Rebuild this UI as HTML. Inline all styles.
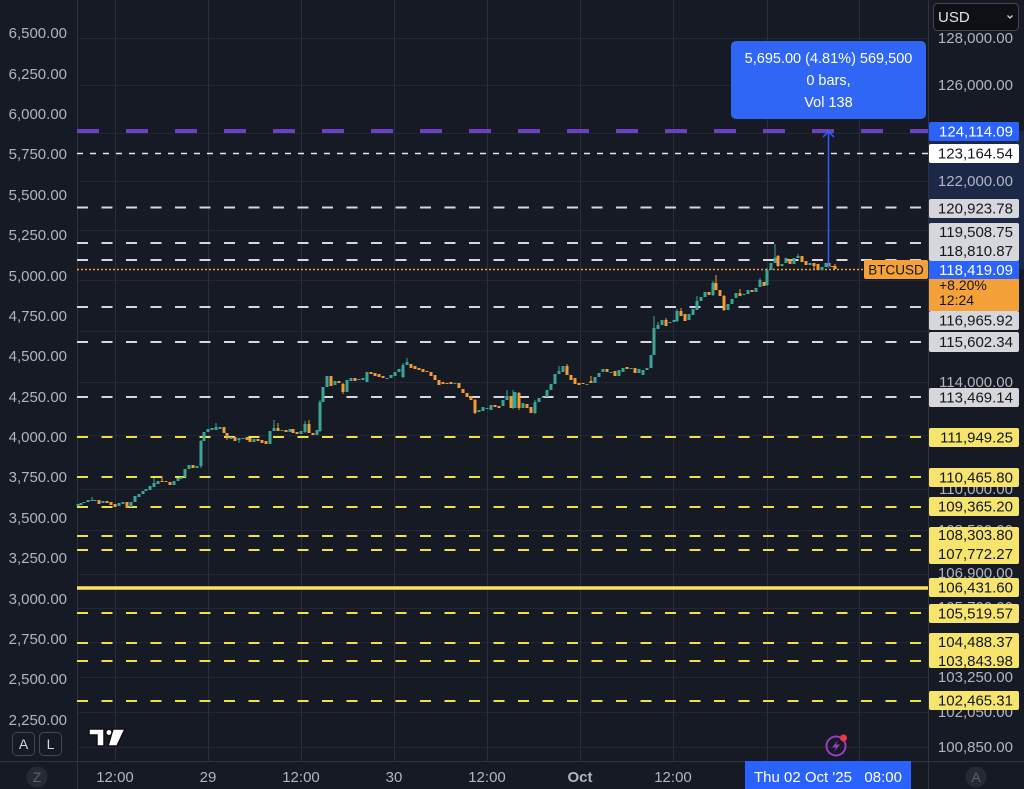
<!DOCTYPE html>
<html><head><meta charset="utf-8"><style>
html,body{margin:0;padding:0;background:#161a25;}
svg{display:block;font-family:"Liberation Sans",sans-serif;}
</style></head><body>
<svg width="1024" height="789" viewBox="0 0 1024 789" xmlns="http://www.w3.org/2000/svg">
<rect width="1024" height="789" fill="#161a25"/>
<!-- grid -->
<path d="M77 38.5H928M77 85.5H928M77 133.5H928M77 181.5H928M77 230.5H928M77 280.5H928M77 331.5H928M77 382.5H928M77 435.5H928M77 489.5H928M77 530.5H928M77 574.5H928M77 608.5H928M77 642.5H928M77 677.5H928M77 712.5H928M77 747.5H928" stroke="#232633" stroke-width="1"/>
<path d="M115.5 0V761M208.5 0V761M301.5 0V761M394.5 0V761M487.5 0V761M580.5 0V761M673.5 0V761M767.5 0V761M859.5 0V761" stroke="#2a2e39" stroke-width="1"/>
<path d="M77.5 0V789M928.5 0V789M0 761.5H1024" stroke="#2f3340" stroke-width="1"/>

<!-- right axis range band -->
<rect x="929" y="131" width="95" height="138" fill="#1c2848"/>

<!-- horizontal level lines -->
<g fill="none">
<path d="M77 131H928" stroke="#6a3fc1" stroke-width="4" stroke-dasharray="22 27"/>
<path d="M77 153.5H928" stroke="#e6e6e6" stroke-width="1.5" stroke-dasharray="6 7"/>
<path d="M77 207.5H928M77 243H928M77 260H928M77 307H928M77 342H928M77 397H928" stroke="#d6d8de" stroke-width="2" stroke-dasharray="11 13.5"/>
<path d="M77 437H928M77 477H928M77 507H928M77 536H928M77 550H928M77 613H928M77 643H928M77 661H928M77 701H928" stroke="#f2de4e" stroke-width="2" stroke-dasharray="11 13.5"/>
<path d="M77 588H928" stroke="#f7e35a" stroke-width="3.5"/>
<path d="M77 269.5H928" stroke="#f39c34" stroke-width="1.4" stroke-dasharray="2 2"/>
</g>

<!-- candles: wicks -->
<path fill="none" stroke="#3aa597" stroke-width="1" d="M92 497V501M154 478V487M216 423V430M239 438V443M274 420V431M407 358V365M507 390V400M559 366V374M654 316V355M658 322V329M697 296V310M760 278V287M775 244V263M798 254V258M201 440V468M320 400V432M305 421V433M403 363V378M513 390V409M535 400V414M677 309V322M713 281V296M767 268V286"/>
<path fill="none" stroke="#f39c34" stroke-width="1" d="M162 476V482M227 433V440M278 423V431M309 420V433M567 364V375M591 376V383M666 318V326M681 308V316M716 275V290M740 289V296M814 263V270M835 264V269M475 399V414M724 295V311M778 255V267M343 383V394M519 392V410"/>
<!-- green bodies -->
<path fill="#3aa597" d="M76.5 504h3v2h-3zM79.5 503h3v2h-3zM82.5 502h3v1h-3zM86.5 500h3v2h-3zM90.5 500h3v1h-3zM93.5 500h3v1h-3zM101.5 501h3v2h-3zM117.5 503h3v3h-3zM121.5 502h3v2h-3zM129.5 502h3v5h-3zM133.5 496h3v6h-3zM137.5 494h3v3h-3zM141.5 491h3v3h-3zM144.5 489h3v2h-3zM148.5 486h3v4h-3zM152.5 483h3v4h-3zM156.5 481h3v3h-3zM172.5 481h3v4h-3zM176.5 478h3v3h-3zM179.5 477h3v2h-3zM183.5 469h3v8h-3zM187.5 465h3v4h-3zM195.5 466h3v2h-3zM199.5 441h3v25h-3zM202.5 432h3v9h-3zM206.5 429h3v3h-3zM210.5 428h3v2h-3zM214.5 427h3v3h-3zM218.5 427h3v2h-3zM229.5 437h3v2h-3zM237.5 438h3v2h-3zM241.5 438h3v1h-3zM252.5 439h3v3h-3zM268.5 431h3v13h-3zM272.5 428h3v3h-3zM280.5 430h3v1h-3zM288.5 429h3v3h-3zM299.5 431h3v3h-3zM303.5 424h3v8h-3zM315.5 430h3v5h-3zM318.5 402h3v29h-3zM321.5 387h3v15h-3zM325.5 376h3v11h-3zM333.5 381h3v4h-3zM345.5 380h3v12h-3zM349.5 378h3v3h-3zM357.5 379h3v1h-3zM361.5 378h3v2h-3zM365.5 372h3v10h-3zM385.5 378h3v1h-3zM389.5 375h3v3h-3zM393.5 372h3v4h-3zM397.5 369h3v3h-3zM401.5 365h3v12h-3zM405.5 362h3v3h-3zM453.5 383h3v1h-3zM477.5 410h3v2h-3zM481.5 407h3v4h-3zM485.5 408h3v1h-3zM489.5 405h3v5h-3zM501.5 400h3v6h-3zM505.5 396h3v4h-3zM513.5 392h3v16h-3zM521.5 403h3v5h-3zM533.5 402h3v11h-3zM537.5 398h3v4h-3zM541.5 397h3v1h-3zM545.5 390h3v7h-3zM549.5 384h3v6h-3zM553.5 374h3v10h-3zM557.5 371h3v3h-3zM561.5 366h3v6h-3zM585.5 384h3v1h-3zM593.5 377h3v6h-3zM597.5 373h3v4h-3zM601.5 369h3v3h-3zM609.5 372h3v1h-3zM617.5 370h3v6h-3zM621.5 368h3v4h-3zM629.5 368h3v1h-3zM637.5 369h3v4h-3zM641.5 370h3v5h-3zM645.5 368h3v2h-3zM649.5 355h3v13h-3zM652.5 328h3v27h-3zM656.5 325h3v4h-3zM660.5 320h3v5h-3zM668.5 322h3v1h-3zM672.5 320h3v2h-3zM675.5 311h3v10h-3zM687.5 314h3v6h-3zM691.5 309h3v6h-3zM695.5 301h3v9h-3zM699.5 297h3v4h-3zM703.5 292h3v5h-3zM711.5 283h3v12h-3zM726.5 304h3v6h-3zM730.5 299h3v5h-3zM734.5 293h3v5h-3zM742.5 294h3v1h-3zM746.5 290h3v4h-3zM754.5 288h3v4h-3zM758.5 280h3v7h-3zM765.5 270h3v15h-3zM769.5 263h3v7h-3zM773.5 258h3v5h-3zM780.5 264h3v2h-3zM784.5 258h3v5h-3zM792.5 258h3v6h-3zM796.5 256h3v2h-3zM808.5 263h3v2h-3zM820.5 267h3v3h-3zM824.5 263h3v4h-3z"/>
<!-- orange bodies -->
<path fill="#f39c34" d="M97.5 500h3v4h-3zM105.5 501h3v2h-3zM109.5 502h3v3h-3zM113.5 504h3v3h-3zM125.5 502h3v6h-3zM160.5 481h3v1h-3zM164.5 481h3v1h-3zM168.5 482h3v3h-3zM191.5 465h3v3h-3zM222.5 427h3v6h-3zM225.5 433h3v4h-3zM233.5 437h3v4h-3zM245.5 437h3v3h-3zM248.5 438h3v4h-3zM256.5 439h3v2h-3zM260.5 440h3v3h-3zM264.5 441h3v3h-3zM276.5 428h3v3h-3zM284.5 430h3v2h-3zM291.5 429h3v4h-3zM295.5 432h3v2h-3zM307.5 424h3v9h-3zM311.5 433h3v2h-3zM329.5 376h3v10h-3zM337.5 381h3v2h-3zM341.5 384h3v8h-3zM353.5 378h3v3h-3zM369.5 372h3v2h-3zM373.5 373h3v3h-3zM377.5 374h3v3h-3zM381.5 376h3v2h-3zM409.5 364h3v4h-3zM413.5 366h3v3h-3zM417.5 368h3v2h-3zM421.5 369h3v3h-3zM425.5 371h3v1h-3zM429.5 372h3v4h-3zM433.5 375h3v5h-3zM437.5 380h3v5h-3zM441.5 382h3v2h-3zM445.5 383h3v1h-3zM449.5 382h3v2h-3zM457.5 383h3v5h-3zM461.5 389h3v4h-3zM465.5 393h3v4h-3zM469.5 396h3v4h-3zM473.5 400h3v13h-3zM493.5 405h3v2h-3zM497.5 406h3v2h-3zM509.5 396h3v12h-3zM517.5 393h3v15h-3zM525.5 404h3v4h-3zM529.5 407h3v6h-3zM565.5 366h3v9h-3zM569.5 375h3v5h-3zM573.5 378h3v6h-3zM577.5 383h3v2h-3zM581.5 383h3v1h-3zM589.5 381h3v2h-3zM605.5 369h3v3h-3zM613.5 371h3v5h-3zM625.5 367h3v2h-3zM633.5 368h3v5h-3zM664.5 320h3v6h-3zM679.5 311h3v5h-3zM683.5 314h3v7h-3zM707.5 292h3v3h-3zM714.5 283h3v7h-3zM718.5 290h3v6h-3zM722.5 296h3v14h-3zM738.5 293h3v3h-3zM750.5 290h3v2h-3zM762.5 282h3v4h-3zM776.5 256h3v10h-3zM788.5 259h3v5h-3zM800.5 256h3v6h-3zM804.5 261h3v4h-3zM812.5 263h3v3h-3zM816.5 264h3v6h-3zM827.5 263h3v3h-3zM830.5 266h3v1h-3zM833.5 266h3v3h-3z"/>

<!-- measure line -->
<path d="M828.5 132V268" stroke="#2962ff" stroke-width="1.5"/>
<path d="M823 137L828.5 131.5L834 137" stroke="#2962ff" stroke-width="1.5" fill="none"/>

<!-- tooltip -->
<rect x="731" y="41" width="195" height="78" rx="5" fill="#2f66f6"/>
<g fill="#ffffff" font-size="14.5" text-anchor="middle">
<text x="828.5" y="63">5,695.00 (4.81%) 569,500</text>
<text x="828.5" y="85">0 bars,</text>
<text x="828.5" y="107">Vol 138</text>
</g>

<!-- BTCUSD label -->
<rect x="864" y="260" width="64" height="19" rx="2" fill="#f5a13a"/>
<text x="896" y="274.5" font-size="13.5" text-anchor="middle" fill="#131722">BTCUSD</text>

<!-- left axis -->
<g fill="#b2b5be" font-size="15" text-anchor="end">
<text x="67" y="38">6,500.00</text>
<text x="67" y="79">6,250.00</text>
<text x="67" y="119">6,000.00</text>
<text x="67" y="159">5,750.00</text>
<text x="67" y="200">5,500.00</text>
<text x="67" y="240">5,250.00</text>
<text x="67" y="281">5,000.00</text>
<text x="67" y="321">4,750.00</text>
<text x="67" y="361">4,500.00</text>
<text x="67" y="402">4,250.00</text>
<text x="67" y="442">4,000.00</text>
<text x="67" y="482">3,750.00</text>
<text x="67" y="523">3,500.00</text>
<text x="67" y="563">3,250.00</text>
<text x="67" y="604">3,000.00</text>
<text x="67" y="644">2,750.00</text>
<text x="67" y="684">2,500.00</text>
<text x="67" y="725">2,250.00</text>
</g>

<!-- right axis gray labels -->
<g fill="#b2b5be" font-size="15" text-anchor="end">
<text x="1013" y="43">128,000.00</text>
<text x="1013" y="90">126,000.00</text>
<text x="1013" y="186">122,000.00</text>
<text x="1013" y="387">114,000.00</text>
<text x="1013" y="494">110,000.00</text>
<text x="1013" y="535">108,500.00</text>
<text x="1013" y="578">106,900.00</text>
<text x="1013" y="612">105,700.00</text>
<text x="1013" y="682">103,250.00</text>
<text x="1013" y="717">102,050.00</text>
<text x="1013" y="752">100,850.00</text>
</g>

<!-- right axis label boxes -->
<g>
<rect x="929" y="122" width="90" height="19" rx="2" fill="#2962ff"/>
<rect x="929" y="144" width="90" height="19" rx="2" fill="#ffffff"/>
<rect x="929" y="199" width="90" height="19" rx="2" fill="#d6d7da"/>
<rect x="929" y="223" width="90" height="38" rx="2" fill="#d6d7da"/>
<rect x="929" y="261" width="90" height="18" fill="#2962ff"/>
<rect x="929" y="279" width="90" height="32" fill="#f5a13a"/>
<rect x="929" y="311" width="90" height="19" rx="2" fill="#d6d7da"/>
<rect x="929" y="332" width="90" height="20" rx="2" fill="#d6d7da"/>
<rect x="929" y="388" width="90" height="19" rx="2" fill="#d6d7da"/>
<g fill="#f6e46c">
<rect x="929" y="428" width="90" height="19" rx="2"/>
<rect x="929" y="468" width="90" height="19" rx="2"/>
<rect x="929" y="497" width="90" height="19" rx="2"/>
<rect x="929" y="527" width="90" height="37" rx="2"/>
<rect x="929" y="578" width="90" height="19" rx="2"/>
<rect x="929" y="604" width="90" height="19" rx="2"/>
<rect x="929" y="633" width="90" height="35" rx="2"/>
<rect x="929" y="691" width="90" height="19" rx="2"/>
</g>
</g>
<g font-size="15" text-anchor="end" fill="#131722">
<text x="1013" y="136.5" fill="#ffffff">124,114.09</text>
<text x="1013" y="158.5">123,164.54</text>
<text x="1013" y="213.5">120,923.78</text>
<text x="1013" y="237">119,508.75</text>
<text x="1013" y="256">118,810.87</text>
<text x="1013" y="275" fill="#ffffff">118,419.09</text>
<text x="1013" y="325.5">116,965.92</text>
<text x="1013" y="347">115,602.34</text>
<text x="1013" y="402.5">113,469.14</text>
<text x="1013" y="442.5">111,949.25</text>
<text x="1013" y="482.5">110,465.80</text>
<text x="1013" y="511.5">109,365.20</text>
<text x="1013" y="540">108,303.80</text>
<text x="1013" y="559">107,772.27</text>
<text x="1013" y="592.5">106,431.60</text>
<text x="1013" y="618.5">105,519.57</text>
<text x="1013" y="647">104,488.37</text>
<text x="1013" y="666">103,843.98</text>
<text x="1013" y="705.5">102,465.31</text>
</g>
<g font-size="14" fill="#131722">
<text x="939" y="290">+8.20%</text>
<text x="939" y="305">12:24</text>
</g>

<!-- USD dropdown -->
<rect x="929" y="0" width="95" height="33" fill="#161a25"/>
<rect x="933.5" y="3.5" width="85" height="27" rx="4" fill="#0e1016" stroke="#434651"/>
<text x="938" y="22" font-size="15" fill="#e0e3eb">USD</text>
<path d="M1007.5 15.5L1010 18L1012.5 15.5" stroke="#d1d4dc" stroke-width="1.3" fill="none"/>

<!-- A / L buttons -->
<rect x="12.5" y="732.5" width="22" height="23" rx="4" fill="none" stroke="#434651"/>
<rect x="39.5" y="732.5" width="22" height="23" rx="4" fill="none" stroke="#434651"/>
<text x="23.5" y="749" font-size="14" text-anchor="middle" fill="#d1d4dc">A</text>
<text x="50.5" y="749" font-size="14" text-anchor="middle" fill="#d1d4dc">L</text>

<!-- TV logo -->
<g stroke="#0e1016" stroke-width="1.5" fill="#ffffff">
<path d="M89 729H104V746H97V735H89Z"/>
<circle cx="109" cy="732.5" r="3.2"/>
<path d="M113 729H125L117 746H108Z"/>
</g>

<!-- lightning icon -->
<circle cx="836" cy="746" r="9.5" fill="none" stroke="#9b3cc4" stroke-width="2"/>
<path d="M838 740L832 747.5H836L834 752L840 744.5H836Z" fill="#9b3cc4"/>
<circle cx="843.5" cy="738" r="3.5" fill="#f23645"/>

<!-- time axis -->
<g fill="#b2b5be" font-size="15" text-anchor="middle">
<text x="115" y="782">12:00</text>
<text x="208" y="782">29</text>
<text x="301" y="782">12:00</text>
<text x="394" y="782">30</text>
<text x="487" y="782">12:00</text>
<text x="580" y="782" font-weight="bold">Oct</text>
<text x="673" y="782">12:00</text>
</g>
<rect x="745" y="761" width="166" height="28" fill="#2962ff"/>
<text x="828" y="782" font-size="15" text-anchor="middle" fill="#ffffff" xml:space="preserve">Thu 02 Oct '25   08:00</text>

<circle cx="37" cy="777" r="10.5" fill="#262a34"/>
<text x="37" y="782" font-size="14" text-anchor="middle" fill="#5d606b">Z</text>
<circle cx="976" cy="777" r="10.5" fill="#262a34"/>
<text x="976" y="782" font-size="14" text-anchor="middle" fill="#5d606b">A</text>
</svg>
</body></html>
